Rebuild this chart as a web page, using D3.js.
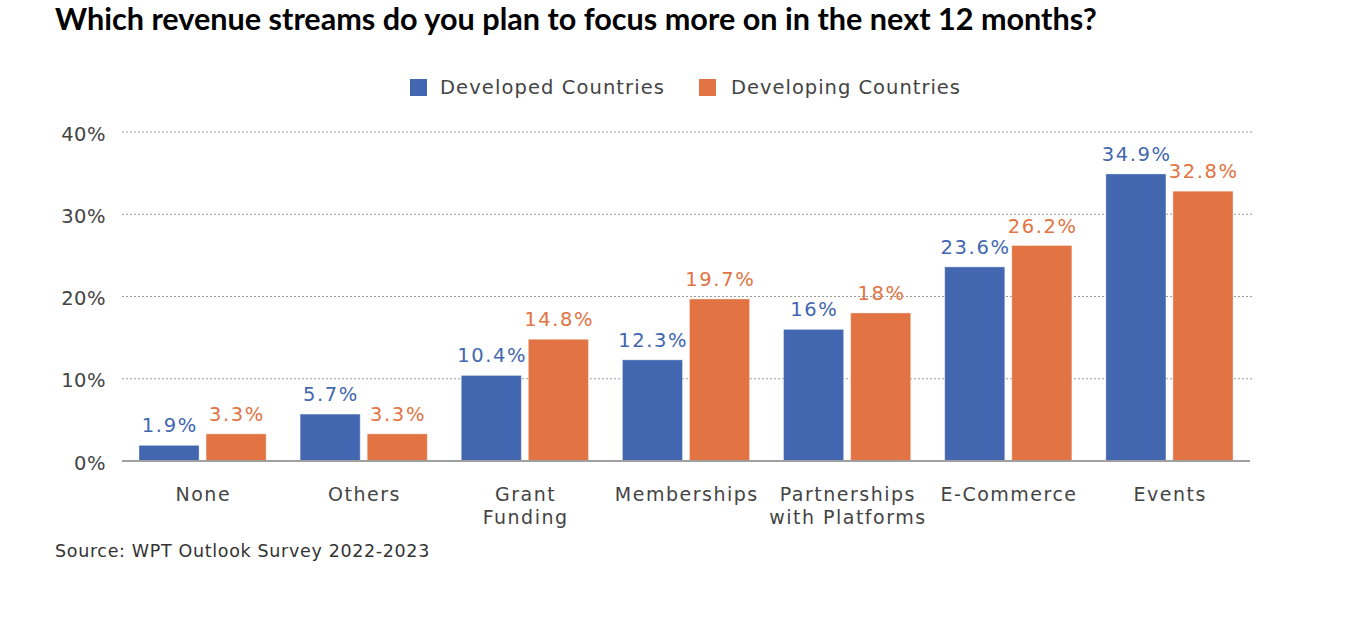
<!DOCTYPE html>
<html>
<head>
<meta charset="utf-8">
<script src="https://cdn.jsdelivr.net/npm/d3@7"></script>
<style>
  html, body { margin: 0; padding: 0; background: #fff; }
  svg { display: block; }
</style>
</head>
<body>
<svg id="chart" width="1358" height="638"></svg>
<script>
const categories = ["None", "Others", "Grant Funding", "Memberships", "Partnerships with Platforms", "E-Commerce", "Events"];
const categoryLines = [["None"], ["Others"], ["Grant", "Funding"], ["Memberships"], ["Partnerships", "with Platforms"], ["E-Commerce"], ["Events"]];
const seriesNames = ["Developed Countries", "Developing Countries"];
const developed = [1.9, 5.7, 10.4, 12.3, 16, 23.6, 34.9];
const developing = [3.3, 3.3, 14.8, 19.7, 18, 26.2, 32.8];
const yTicks = [0, 10, 20, 30, 40];
const title = "Which revenue streams do you plan to focus more on in the next 12 months?";
const source = "Source: WPT Outlook Survey 2022-2023";

(function () {
const colors = ["#4267B0", "#E27343"];
const series = [developed, developing];
const svg = d3.select("#chart");
const bodyFont = "'DejaVu Sans', sans-serif";

const plotLeft = 122, plotRight = 1250, plotTop = 132, plotBottom = 461;

const x0 = d3.scaleBand().domain(categories).range([plotLeft, plotRight]).paddingInner(0.211).paddingOuter(0.1055);
const x1 = d3.scaleBand().domain(seriesNames).range([0, x0.bandwidth()]).paddingInner(0.1045);
const y = d3.scaleLinear().domain([0, 40]).range([plotBottom, plotTop]);

function fitWidth(sel, target) {
  const n = sel.text().length;
  const w = sel.node().getComputedTextLength();
  sel.attr("letter-spacing", ((target - w) / n).toFixed(2));
}

// Title
const t = svg.append("text").attr("x", 55).attr("y", 30)
  .attr("font-family", "Lato, sans-serif").attr("font-weight", 700)
  .attr("font-size", 27).attr("fill", "#000").text(title);
const tw = t.node().getComputedTextLength();
t.attr("font-size", 27 * 1042 / tw);

// Gridlines
svg.append("g").selectAll("line").data(yTicks.filter(d => d > 0)).join("line")
  .attr("x1", plotLeft).attr("x2", 1253)
  .attr("y1", d => y(d)).attr("y2", d => y(d))
  .attr("stroke", "#9a9a9a").attr("stroke-width", 1).attr("stroke-dasharray", "2,2");

// Y axis labels
const yAxis = d3.axisLeft(y).tickValues(yTicks).tickFormat(d => d + "%").tickSize(0).tickPadding(16);
const yg = svg.append("g").attr("transform", `translate(${plotLeft},0)`).call(yAxis);
yg.select(".domain").remove();
yg.selectAll("text").attr("font-family", bodyFont).attr("font-size", 19.5).attr("fill", "#444")
  .attr("dy", "0.42em").attr("letter-spacing", 0.5);

// Bars
const groups = svg.append("g").selectAll("g").data(categories).join("g")
  .attr("transform", d => `translate(${x0(d)},0)`);
groups.selectAll("rect").data((d, i) => series.map((s, j) => ({ v: s[i], j }))).join("rect")
  .attr("x", d => x1(seriesNames[d.j]))
  .attr("width", x1.bandwidth())
  .attr("y", d => y(d.v))
  .attr("height", d => y(0) - y(d.v))
  .attr("fill", d => colors[d.j])
  .attr("stroke", "#ffffff").attr("stroke-opacity", 0.35).attr("stroke-width", 1);

groups.selectAll("text.val").data((d, i) => series.map((s, j) => ({ v: s[i], j }))).join("text")
  .attr("class", "val")
  .attr("x", d => x1(seriesNames[d.j]) + x1.bandwidth() / 2 + 0.8)
  .attr("y", d => y(d.v) - 13)
  .attr("text-anchor", "middle")
  .attr("font-family", bodyFont).attr("font-size", 19.5)
  .attr("letter-spacing", 1.6)
  .attr("fill", d => colors[d.j])
  .text(d => d.v + "%");

// Baseline
svg.append("line").attr("x1", plotLeft).attr("x2", plotRight).attr("y1", y(0)).attr("y2", y(0))
  .attr("stroke", "#a0a0a0").attr("stroke-width", 2);

// Category labels
const xl = svg.append("g").selectAll("text").data(categories).join("text")
  .attr("y", 501)
  .attr("text-anchor", "middle")
  .attr("font-family", bodyFont).attr("font-size", 19).attr("fill", "#444")
  .attr("letter-spacing", 1.5);
xl.each(function (d, i) {
  d3.select(this).selectAll("tspan").data(categoryLines[i]).join("tspan")
    .attr("x", x0(d) + x0.bandwidth() / 2 + 0.75)
    .attr("dy", (l, k) => k === 0 ? 0 : 23)
    .text(l => l);
});

// Legend
const legendItems = [{ x: 410, tx: 440, w: 225 }, { x: 699, tx: 731, w: 230 }];
legendItems.forEach((it, i) => {
  svg.append("rect").attr("x", it.x).attr("y", 79).attr("width", 17).attr("height", 17).attr("fill", colors[i]);
  const lt = svg.append("text").attr("x", it.tx).attr("y", 94)
    .attr("font-family", bodyFont).attr("font-size", 19.5).attr("fill", "#444").text(seriesNames[i]);
  fitWidth(lt, it.w);
});

// Source
const st = svg.append("text").attr("x", 55).attr("y", 557)
  .attr("font-family", bodyFont).attr("font-size", 17.5).attr("fill", "#333").text(source);
fitWidth(st, 375);
})();
</script>
</body>
</html>
